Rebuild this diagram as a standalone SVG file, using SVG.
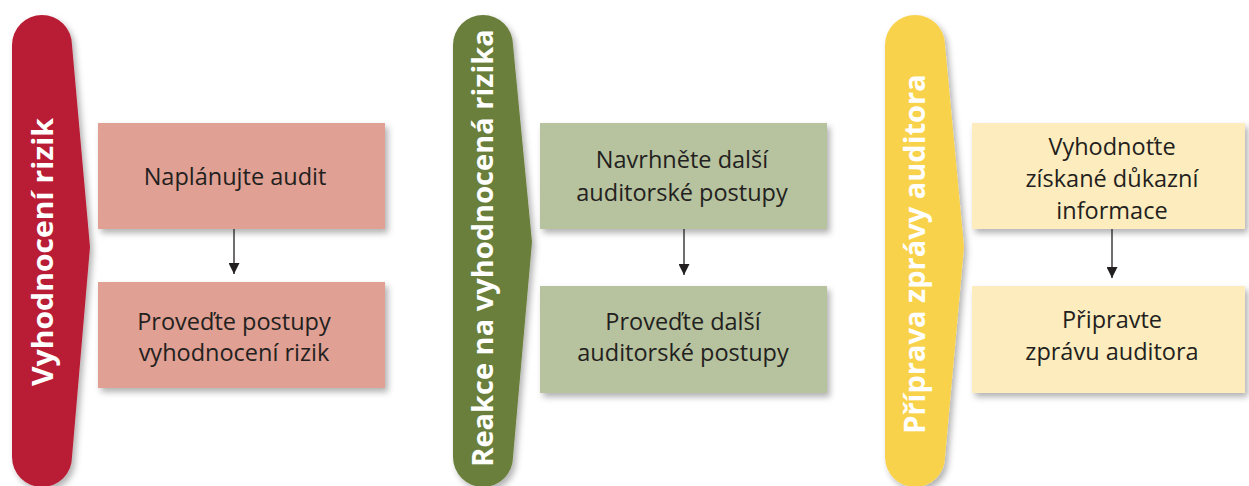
<svg xmlns="http://www.w3.org/2000/svg" width="1249" height="486" viewBox="0 0 1249 486">
  <defs>
    <filter id="shadow" x="-10%" y="-10%" width="130%" height="140%">
      <feDropShadow dx="3" dy="4" stdDeviation="3" flood-color="#000" flood-opacity="0.3"/>
    </filter>
    <marker id="arrow" markerWidth="11" markerHeight="11" refX="11" refY="5.5" orient="auto" markerUnits="userSpaceOnUse" viewBox="0 0 11 11">
      <path d="M0,0 L11,5.5 L0,11 Z" fill="#231f20"/>
    </marker>
  </defs>
  <style>
    .box { filter: url(#shadow); }
    .stage { filter: url(#shadow); }
    .label { font-family: "Open Sans", "Liberation Sans", sans-serif; font-size: 23.5px; fill: #231f20; text-anchor: middle; }
    .title { font-family: "Open Sans", "Liberation Sans", sans-serif; font-weight: bold; font-size: 29px; fill: #ffffff; text-anchor: middle; }
    .conn { stroke: #231f20; stroke-width: 1.3; fill: none; marker-end: url(#arrow); }
  </style>
  <rect width="1249" height="486" fill="#ffffff"/>

  <!-- Stage 1: risk assessment -->
  <g id="stage-risk">
    <path class="stage" d="M12,45 A30,30 0 0 1 72,45 L90,247 L72,457 A30,30 0 0 1 12,457 Z" fill="#b91f36"/>
    <text class="title" transform="translate(53,252) rotate(-90)" textLength="268" lengthAdjust="spacingAndGlyphs">Vyhodnocení rizik</text>
  </g>
  <g id="plan-audit">
    <rect class="box" x="98" y="123" width="287" height="106" fill="#e0a093"/>
    <text class="label" x="235" y="185">Naplánujte audit</text>
  </g>
  <g id="perform-risk">
    <rect class="box" x="98" y="282" width="287" height="106" fill="#e0a093"/>
    <text class="label" x="234" y="330">Proveďte postupy</text>
    <text class="label" x="234" y="361">vyhodnocení rizik</text>
  </g>

  <!-- Stage 2: response to assessed risks -->
  <g id="stage-response">
    <path class="stage" d="M453,45 A30,30 0 0 1 513,45 L532,242 L513,457 A30,30 0 0 1 453,457 Z" fill="#6a7f3b"/>
    <text class="title" transform="translate(493,248) rotate(-90)">Reakce na vyhodnocená rizika</text>
  </g>
  <g id="design-procedures">
    <rect class="box" x="540" y="123" width="287" height="106" fill="#b7c29f"/>
    <text class="label" x="682" y="168">Navrhněte další</text>
    <text class="label" x="682" y="201">auditorské postupy</text>
  </g>
  <g id="perform-procedures">
    <rect class="box" x="540" y="286" width="287" height="107" fill="#b7c29f"/>
    <text class="label" x="683" y="330">Proveďte další</text>
    <text class="label" x="683" y="361">auditorské postupy</text>
  </g>

  <!-- Stage 3: auditor's report -->
  <g id="stage-report">
    <path class="stage" d="M885,45 A30,30 0 0 1 945,45 L964,247 L945,457 A30,30 0 0 1 885,457 Z" fill="#f9d24c"/>
    <text class="title" transform="translate(925,254) rotate(-90)">Příprava zprávy auditora</text>
  </g>
  <g id="evaluate-evidence">
    <rect class="box" x="972" y="123" width="273" height="106" fill="#fdecbd"/>
    <text class="label" x="1112" y="155">Vyhodnoťte</text>
    <text class="label" x="1112" y="187">získané důkazní</text>
    <text class="label" x="1112" y="219">informace</text>
  </g>
  <g id="prepare-report">
    <rect class="box" x="972" y="286" width="273" height="107" fill="#fdecbd"/>
    <text class="label" x="1112" y="328">Připravte</text>
    <text class="label" x="1112" y="360">zprávu auditora</text>
  </g>

  <g id="connectors">
    <line class="conn" x1="234" y1="229" x2="234" y2="274"/>
    <line class="conn" x1="684" y1="229" x2="684" y2="275"/>
    <line class="conn" x1="1112" y1="229" x2="1112" y2="278"/>
  </g>
</svg>
